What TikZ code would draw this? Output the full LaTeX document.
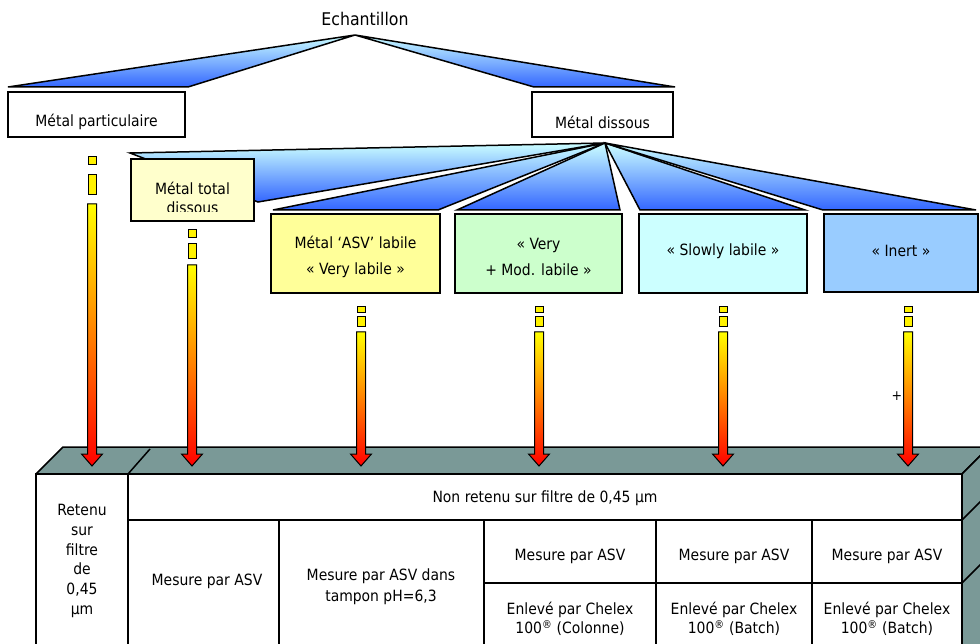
\documentclass[tikz,border=0pt]{standalone}
\usepackage{fontspec}
\setmainfont{DejaVu Sans Condensed}
\usetikzlibrary{positioning}
\definecolor{fanlight}{RGB}{204,255,255}
\definecolor{fandark}{RGB}{51,102,255}
\definecolor{paleyellow}{RGB}{255,255,204}
\definecolor{labyellow}{RGB}{255,255,153}
\definecolor{labgreen}{RGB}{204,255,204}
\definecolor{labcyan}{RGB}{204,255,255}
\definecolor{labblue}{RGB}{153,204,255}
\definecolor{slabtop}{RGB}{122,153,151}
% arrow from a fraction down to the filter slab
\newcommand{\flowarrow}[6]{%
  \filldraw[smallbar] ({#1-4},#2) rectangle ({#1+4},#3);
  \filldraw[smallbar] ({#1-4},#4) rectangle ({#1+4},#5);
  \filldraw[flowbar] ({#1-4.5},#6) -- ({#1+4.5},#6) -- ({#1+4.5},454) -- ({#1+10.5},454)
    -- (#1,466) -- ({#1-10.5},454) -- ({#1-4.5},454) -- cycle;}
\begin{document}
\begin{tikzpicture}[x=1pt,y=-1pt,
  every node/.style={font=\fontsize{15.5}{19.5}\selectfont,inner sep=0pt},
  fan/.style={draw=black,line width=1.5pt,top color=fanlight,bottom color=fandark},
  fraction/.style={draw=black,line width=1.5pt,inner sep=0pt},
  slab/.style={draw=black,line width=1.5pt,fill=slabtop,line join=round},
  grid/.style={draw=black,line width=1.5pt},
  smallbar/.style={draw=black,line width=1pt,fill=yellow},
  flowbar/.style={draw=black,line width=1pt,top color=yellow,bottom color=red}]
\useasboundingbox (0,0) rectangle (980,644);
\clip (0,0) rectangle (980,644);

% sample and first split
\node[font=\fontsize{17.5}{20}\selectfont] (ech) at (365,19) {Echantillon};
\coordinate (top) at (355,35);
\filldraw[fan] (top) -- (8,87) -- (188,87) -- cycle;
\filldraw[fan] (top) -- (534,87) -- (675,87) -- cycle;
\node[fraction,minimum width=177,minimum height=45] (part) at (96.5,114.5) {};
\node (parttxt) at (96.5,122) {Métal particulaire};
\node[fraction,minimum width=141,minimum height=45] (diss) at (602.5,114.5) {};
\node (disstxt) at (602.5,122) {Métal dissous};

% dissolved fractions
\coordinate (split) at (605,143);
\filldraw[fan] (split) -- (130,153) -- (258,202) -- cycle;
\filldraw[fan] (split) -- (273,210) -- (438,210) -- cycle;
\filldraw[fan] (split) -- (457,210) -- (620,210) -- cycle;
\filldraw[fan] (split) -- (640,210) -- (805,210) -- cycle;
\filldraw[fan] (split) -- (823,210) -- (976,210) -- cycle;

\node[fraction,fill=paleyellow,minimum width=123,minimum height=62] (total) at (192.5,190) {};
\begin{scope}
  \clip (131,159) rectangle (254,212);
  \node[align=center] (totaltxt) at (192.5,198) {Métal total\\dissous};
\end{scope}
\node[fraction,fill=labyellow,minimum width=169,minimum height=79] (asv) at (355.5,253.5) {};
\node[align=center] (asvtxt) at (355.5,257) {Métal ‘ASV’ labile\\[6.5pt]« Very labile »};
\node[fraction,fill=labgreen,minimum width=167,minimum height=79] (mod) at (538.5,253.5) {};
\node[align=center] (modtxt) at (538.5,257) {« Very\\[6.5pt]+ Mod. labile »};
\node[fraction,fill=labcyan,minimum width=168,minimum height=79] (slow) at (723,253.5) {};
\node (slowtxt) at (723,251) {« Slowly labile »};
\node[fraction,fill=labblue,minimum width=154,minimum height=78] (inert) at (901,253) {};
\node (inerttxt) at (901,251) {« Inert »};

% filter slab
\filldraw[slab] (36,474) -- (63,447) -- (989,447) -- (962,474) -- cycle;
\filldraw[slab] (962,474) -- (989,447) -- (989,700) -- (962,700) -- cycle;
\draw[grid] (128,474) -- (150,449);
\filldraw[grid,fill=white] (36,474) rectangle (962,700);
\draw[grid] (128,474) -- (128,700) (128,520) -- (962,520)
  (279,520) -- (279,700) (484,520) -- (484,700) (656,520) -- (656,700)
  (812,520) -- (812,700) (484,583) -- (962,583);
\draw[grid] (962,520) -- (989,493) (962,583) -- (989,556);

\node[align=center,font=\fontsize{15.5}{19.8}\selectfont] (retenu) at (82,561) {Retenu\\sur\\filtre\\de\\0,45\\µm};
\node (nonret) at (545,498) {Non retenu sur filtre de 0,45 µm};
\node (mes1) at (207,581) {Mesure par ASV};
\node[align=center,font=\fontsize{15.5}{21}\selectfont] (mes2) at (381,587) {Mesure par ASV dans\\tampon pH=6,3};
\node (mes3) at (570,556) {Mesure par ASV};
\node (mes4) at (734,556) {Mesure par ASV};
\node (mes5) at (887,556) {Mesure par ASV};
\node[align=center] (chel3) at (570,619) {Enlevé par Chelex\\100\textsuperscript{®} (Colonne)};
\node[align=center] (chel4) at (734,619) {Enlevé par Chelex\\100\textsuperscript{®} (Batch)};
\node[align=center] (chel5) at (887,619) {Enlevé par Chelex\\100\textsuperscript{®} (Batch)};

% arrows onto the slab
\flowarrow{92}{157}{165}{175}{195}{204}
\flowarrow{192}{230}{238}{244}{259}{265}
\flowarrow{361}{307}{313}{317}{327}{332}
\flowarrow{539}{307}{313}{317}{327}{332}
\flowarrow{723}{307}{313}{317}{327}{332}
\flowarrow{908}{307}{313}{317}{327}{332}
\node[font=\fontsize{14}{16}\selectfont] (plus) at (897,396) {+};
\end{tikzpicture}
\end{document}
